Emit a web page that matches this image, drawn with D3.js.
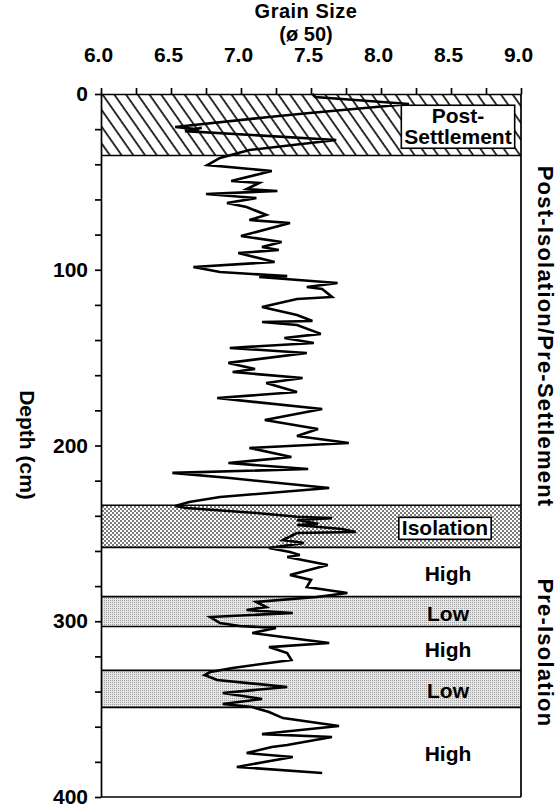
<!DOCTYPE html>
<html>
<head>
<meta charset="utf-8">
<script src="https://cdn.jsdelivr.net/npm/d3@7/dist/d3.min.js"></script>
<style>
  body { margin: 0; background: #fff; }
  text { font-family: "Liberation Sans", Arial, sans-serif; font-weight: bold; fill: #000; }
</style>
</head>
<body>
<script>
// grain size down the core: depth (cm) and median grain size (phi 50)
var depth = [0, 1.7, 5.7, 10.8, 13.1, 18.8, 20.0, 19.2, 21.1, 26.2, 31.9, 36.4, 40.4, 43.8, 49.5, 50.6,
  54.1, 55.2, 56.9, 59.2, 62.0, 64.3, 68.8, 71.7, 73.4, 80.8, 84.2, 87.1, 88.8, 90.5, 95.6, 98.4,
  101.3, 103.6, 104.1, 107.5, 109.8, 111.0, 115.5, 116.6, 121.2, 125.7, 129.2, 129.7, 131.4, 136.5,
  138.8, 141.7, 144.5, 147.4, 153.0, 156.5, 158.2, 161.6, 164.4, 169.6, 173.0, 179.2, 185.5, 190.6,
  194.6, 198.6, 201.4, 206.5, 210.0, 213.4, 215.6, 218.5, 220.8, 224.2, 229.3, 232.1, 234.4, 235.6,
  238.4, 240.5, 241.3, 242.4, 244.5, 245.2, 247.5, 249.2, 249.8, 253.8, 255.5, 258.3, 260.6, 262.3,
  263.4, 268.0, 273.7, 276.5, 280.5, 283.9, 286.2, 289.0, 291.9, 293.6, 295.3, 297.6, 301.0, 302.7,
  303.8, 306.7, 312.4, 314.7, 318.1, 322.0, 326.6, 328.9, 330.6, 333.4, 337.4, 340.8, 344.2, 347.1,
  348.8, 351.6, 355.1, 359.6, 364.2, 365.9, 370.4, 371.5, 375.0, 377.2, 382.9, 386.3]
var grain = [7.51, 7.53, 8.20, 7.49, 7.20, 6.53, 6.68, 6.72, 6.60, 7.68, 7.06, 6.85, 6.76, 7.22, 6.93, 7.13,
  7.04, 7.26, 6.75, 7.11, 6.90, 7.04, 7.18, 7.06, 7.35, 7.00, 7.29, 7.15, 7.27, 6.98, 7.24, 6.66,
  6.85, 7.33, 7.13, 7.69, 7.47, 7.58, 7.65, 7.40, 7.15, 7.40, 7.51, 7.15, 7.40, 7.57,
  7.31, 7.52, 6.92, 7.47, 6.91, 7.10, 6.94, 7.44, 7.18, 7.40, 6.83, 7.58, 7.17, 7.55,
  7.40, 7.77, 7.06, 7.36, 6.91, 7.48, 6.51, 6.92, 7.20, 7.63, 6.85, 6.63, 6.53, 6.61,
  7.11, 7.40, 7.65, 7.40, 7.55, 7.40, 7.72, 7.82, 7.40, 7.30, 7.45, 7.20, 7.35, 7.42,
  7.33, 7.62, 7.35, 7.50, 7.47, 7.76, 7.54, 7.11, 7.18, 7.04, 7.37, 6.78, 6.85, 6.99,
  7.25, 7.08, 7.63, 7.20, 7.33, 7.36, 6.94, 6.78, 6.74, 6.83, 7.33, 6.87, 7.15, 6.87,
  7.08, 7.20, 7.30, 7.70, 7.15, 7.65, 7.33, 7.22, 7.04, 7.37, 6.97, 7.58]

// zones (depth in cm)
var zoneTop = [0, 35, 234, 258, 286, 303, 328, 349]
var zoneBottom = [35, 234, 258, 286, 303, 328, 349, 400]
var zoneKind = ["settle", "plain", "isolation", "high", "low", "high", "low", "high"]
var zoneLabel = [["Post-", "Settlement"], [], ["Isolation"], ["High"], ["Low"], ["High"], ["Low"], ["High"]]

// periods written down the right side
var periodName = ["Post-Isolation/Pre-Settlement", "Pre-Isolation"]
var periodMid = [138, 318]

// axes
var xTickLabels = ["6.0", "6.5", "7.0", "7.5", "8.0", "8.5", "9.0"]
var yTickLabels = ["0", "100", "200", "300", "400"]

var width = 557, height = 808
var plotLeft = 101, plotRight = 521, plotTop = 94, plotBottom = 797

var svg = d3.select("body").append("svg")
  .attr("width", width)
  .attr("height", height)

var x = d3.scaleLinear().domain([6, 9]).range([plotLeft, plotRight])
var y = d3.scaleLinear().domain([0, 400]).range([plotTop, plotBottom])

// PATTERNS
var defs = svg.append("defs")

var hatch = defs.append("pattern")
  .attr("id", "hatch")
  .attr("patternUnits", "userSpaceOnUse")
  .attr("width", 9.6).attr("height", 9.6)
  .attr("patternTransform", "rotate(-35)")
hatch.append("rect").attr("width", 9.6).attr("height", 9.6).attr("fill", "#fff")
hatch.append("line").attr("x1", 1).attr("x2", 1).attr("y1", 0).attr("y2", 9.6)
  .attr("stroke", "#000").attr("stroke-width", 1.6)

var iso = defs.append("pattern")
  .attr("id", "iso")
  .attr("patternUnits", "userSpaceOnUse")
  .attr("width", 4).attr("height", 4)
iso.append("rect").attr("width", 4).attr("height", 4).attr("fill", "#fff")
iso.append("circle").attr("cx", 1).attr("cy", 1).attr("r", 0.95).attr("fill", "#444")
iso.append("circle").attr("cx", 3).attr("cy", 3).attr("r", 0.95).attr("fill", "#444")

var low = defs.append("pattern")
  .attr("id", "low")
  .attr("patternUnits", "userSpaceOnUse")
  .attr("width", 2).attr("height", 2)
low.append("rect").attr("width", 2).attr("height", 2).attr("fill", "#e6e6e6")
low.append("rect").attr("width", 1).attr("height", 1).attr("fill", "#9f9f9f")

var fillFor = {settle: "url(#hatch)", plain: "#fff", isolation: "url(#iso)", high: "#fff", low: "url(#low)"}

// ZONE BANDS
var zones = zoneTop.map(function(d, i) {
  return {top: d, bottom: zoneBottom[i], kind: zoneKind[i], label: zoneLabel[i]}
})

svg.selectAll(".zone")
  .data(zones)
  .join("rect")
  .attr("class", "zone")
  .attr("x", plotLeft)
  .attr("y", d => y(d.top))
  .attr("width", plotRight - plotLeft)
  .attr("height", d => y(d.bottom) - y(d.top))
  .attr("fill", d => fillFor[d.kind])

svg.selectAll(".zoneLine")
  .data(zoneBottom)
  .join("line")
  .attr("class", "zoneLine")
  .attr("x1", plotLeft).attr("x2", plotRight)
  .attr("y1", d => y(d)).attr("y2", d => y(d))
  .attr("stroke", "#000")
  .attr("stroke-width", 1.7)

// right border
svg.append("line")
  .attr("x1", plotRight).attr("x2", plotRight)
  .attr("y1", plotTop).attr("y2", plotBottom)
  .attr("stroke", "#000")
  .attr("stroke-width", 1.7)

// GRAIN SIZE CURVE
var points = depth.map((d, i) => [grain[i], d])
var line = d3.line().x(d => x(d[0])).y(d => y(d[1]))

svg.append("path")
  .datum(points)
  .attr("d", line)
  .attr("fill", "none")
  .attr("stroke", "#000")
  .attr("stroke-width", 2.6)
  .attr("stroke-linejoin", "miter")

// ZONE LABELS
zones.forEach(function(z) {
  if (z.label.length == 0) return
  var g = svg.append("g")
  var cy = (y(z.top) + y(z.bottom)) / 2
  var n = z.label.length
  var lx = z.kind == "isolation" ? 445 : (z.kind == "settle" ? 458 : 448)
  var t = g.append("text")
    .attr("text-anchor", "middle")
    .attr("font-size", 21)
  z.label.forEach(function(s, i) {
    t.append("tspan")
      .attr("x", lx)
      .attr("y", cy + 9 + (i - (n - 1) / 2) * 21)
      .text(s)
  })
  if (z.kind == "settle" || z.kind == "isolation") {
    var b = t.node().getBBox()
    g.insert("rect", "text")
      .attr("x", b.x - 3)
      .attr("y", b.y + 1)
      .attr("width", b.width + 6)
      .attr("height", b.height - 1)
      .attr("fill", "#fff")
      .attr("stroke", "#000")
      .attr("stroke-width", 1.6)
  }
})

// AXES
var xAxis = d3.axisTop(x)
  .tickValues(d3.range(0, 13).map(i => 6 + i * 0.25))
  .tickSizeInner(6)
  .tickSizeOuter(0)
  .tickPadding(26)
  .tickFormat(d => (d * 2) % 1 == 0 ? xTickLabels[(d - 6) * 2] : "")

svg.append("g")
  .attr("transform", "translate(0," + plotTop + ")")
  .call(xAxis)
  .call(g => g.selectAll("text").attr("font-size", 21).attr("font-family", null).attr("dx", -3))
  .call(g => g.selectAll("line,path").attr("stroke-width", 1.7))

var yAxis = d3.axisLeft(y)
  .tickValues(d3.range(0, 21).map(i => i * 20))
  .tickSizeInner(6)
  .tickSizeOuter(0)
  .tickPadding(7)
  .tickFormat(d => d % 100 == 0 ? yTickLabels[d / 100] : "")

svg.append("g")
  .attr("transform", "translate(" + plotLeft + ",0)")
  .call(yAxis)
  .call(g => g.selectAll("text").attr("font-size", 21).attr("font-family", null))
  .call(g => g.selectAll("line,path").attr("stroke-width", 1.7))

// TITLES
svg.append("text")
  .attr("x", 306).attr("y", 18)
  .attr("text-anchor", "middle")
  .attr("font-size", 20)
  .attr("letter-spacing", 0.5)
  .text("Grain Size")

svg.append("text")
  .attr("x", 306).attr("y", 41)
  .attr("text-anchor", "middle")
  .attr("font-size", 20)
  .text("(ø 50)")

svg.append("text")
  .attr("transform", "translate(20,445) rotate(90)")
  .attr("text-anchor", "middle")
  .attr("font-size", 21)
  .text("Depth (cm)")

svg.selectAll(".period")
  .data(periodName)
  .join("text")
  .attr("class", "period")
  .attr("transform", (d, i) => "translate(538," + y(periodMid[i]) + ") rotate(90)")
  .attr("text-anchor", "middle")
  .attr("font-size", 22)
  .attr("letter-spacing", 1.2)
  .text(d => d)
</script>
</body>
</html>
